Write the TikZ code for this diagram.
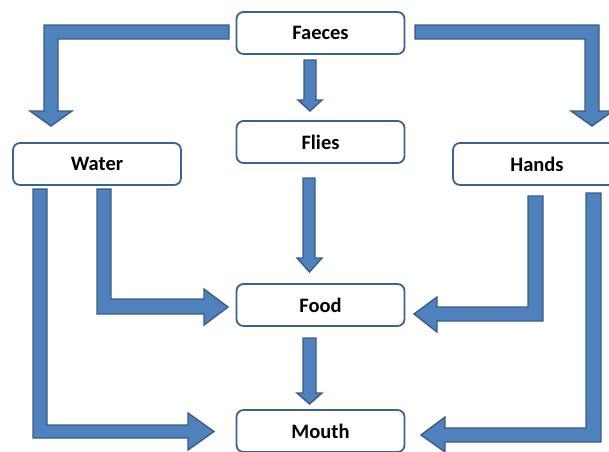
\documentclass[tikz,border=0pt]{standalone}
\usepackage{fontspec}
\setmainfont{Carlito}
\definecolor{arrfill}{HTML}{4F81BD}
\definecolor{arrline}{HTML}{385D8A}
\definecolor{boxline}{HTML}{3B6290}
\begin{document}
\begin{tikzpicture}[x=1pt,y=-1pt,
  box/.style={draw=boxline, line width=1.8pt, rounded corners=7pt, fill=white,
    minimum width=168pt, minimum height=42pt, inner sep=0pt,
    font=\fontsize{20.5}{24}\selectfont\bfseries, text=black},
  blk/.style={fill=arrfill, draw=arrline, line width=1.4pt, line join=miter}]
\useasboundingbox (0,0) rectangle (609,451);
\clip (0,0) rectangle (609,451);
% boxes
\node[box] (faeces) at (320.5,33) {Faeces};
\node[box] (flies)  at (320.5,142) {Flies};
\node[box] (water)  at (97,164) {Water};
\node[box] (hands)  at (537,164) {Hands};
\node[box] (food)   at (320.5,305) {Food};
\node[box] (mouth)  at (320.5,431) {Mouth};
% block arrows
% Faeces -> Water
\draw[blk] (229,25) -- (44,25) -- (44,111) -- (30,111) -- (51,126) -- (72,111) -- (58,111) -- (58,39) -- (229,39) -- cycle;
% Faeces -> Hands
\draw[blk] (415,25) -- (599,25) -- (599,111) -- (613,111) -- (592,126) -- (571,111) -- (585,111) -- (585,39) -- (415,39) -- cycle;
% Faeces -> Flies
\draw[blk] (304,60) -- (316,60) -- (316,100) -- (322,100) -- (310,111) -- (298,100) -- (304,100) -- cycle;
% Flies -> Food
\draw[blk] (303,178) -- (315,178) -- (315,258) -- (322,258) -- (309.5,272) -- (297,258) -- (303,258) -- cycle;
% Food -> Mouth
\draw[blk] (303,338) -- (316,338) -- (316,393) -- (322,393) -- (309.5,404) -- (297,393) -- (303,393) -- cycle;
% Water -> Food
\draw[blk] (97,189) -- (111,189) -- (111,299) -- (204,299) -- (204,289) -- (228,307) -- (204,325) -- (204,314) -- (97,314) -- cycle;
% Water -> Mouth
\draw[blk] (33,189) -- (47,189) -- (47,425) -- (188,425) -- (188,413) -- (214,431.5) -- (188,450) -- (188,438) -- (33,438) -- cycle;
% Hands -> Food
\draw[blk] (528,196) -- (543,196) -- (543,321) -- (437,321) -- (437,332) -- (414,314) -- (437,297) -- (437,307) -- (528,307) -- cycle;
% Hands -> Mouth
\draw[blk] (586,193) -- (601,193) -- (601,442) -- (445,442) -- (445,452) -- (421,435) -- (445,417) -- (445,428) -- (586,428) -- cycle;
\end{tikzpicture}
\end{document}
